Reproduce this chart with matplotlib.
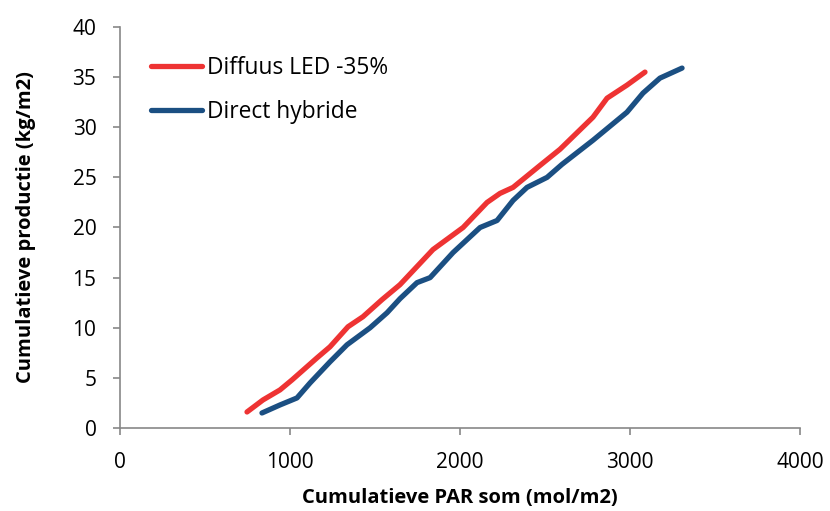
import matplotlib.pyplot as plt

plt.rcParams['font.family'] = ['Open Sans', 'DejaVu Sans']

# Diffuus LED -35%
led_par = [747, 841, 941, 1012, 1159, 1235, 1341, 1429, 1541, 1647, 1841, 2018,
           2159, 2235, 2312, 2471, 2588, 2782, 2865, 2982, 3088]
led_prod = [1.6, 2.8, 3.8, 4.8, 7.0, 8.1, 10.1, 11.1, 12.8, 14.3, 17.8, 20.0,
            22.5, 23.4, 24.0, 26.2, 27.8, 31.0, 32.9, 34.2, 35.5]

# Direct hybride
hyb_par = [835, 941, 1041, 1118, 1235, 1335, 1471, 1571, 1647, 1747, 1824, 1959,
           2118, 2218, 2312, 2394, 2512, 2600, 2782, 2982, 3076, 3176, 3306]
hyb_prod = [1.5, 2.3, 3.0, 4.5, 6.6, 8.3, 10.0, 11.5, 12.9, 14.5, 15.0, 17.5,
            20.0, 20.7, 22.7, 24.0, 25.0, 26.3, 28.7, 31.5, 33.4, 34.9, 35.9]

fig = plt.figure(figsize=(8.30, 5.11), dpi=100)
ax = fig.add_axes([0.1446, 0.1624, 0.8193, 0.7848])

ax.plot(led_par, led_prod, color='#EE3333', lw=3.8, solid_capstyle='round',
        solid_joinstyle='round', label='Diffuus LED -35%')
ax.plot(hyb_par, hyb_prod, color='#1B4F82', lw=3.8, solid_capstyle='round',
        solid_joinstyle='round', label='Direct hybride')

ax.set_xlim(0, 4000)
ax.set_ylim(0, 40)
ax.set_xticks([0, 1000, 2000, 3000, 4000])
ax.set_yticks(range(0, 41, 5))

for s in ['top', 'right']:
    ax.spines[s].set_visible(False)
for s in ['left', 'bottom']:
    ax.spines[s].set_color('#888888')
    ax.spines[s].set_linewidth(1.2)
ax.tick_params(colors='#888888', labelcolor='black', labelsize=15, length=5, width=1.2, pad=12)

ax.set_xlabel('Cumulatieve PAR som (mol/m2)', fontsize=14.5, fontweight='bold', labelpad=11)
ax.set_ylabel('Cumulatieve productie (kg/m2)', fontsize=14.5, fontweight='bold', labelpad=26)

ax.legend(loc='upper left', bbox_to_anchor=(0.016, 0.98), frameon=False, fontsize=16.4,
          handlelength=2.2, handletextpad=0.22, labelspacing=0.9)

fig.savefig('out.png')
